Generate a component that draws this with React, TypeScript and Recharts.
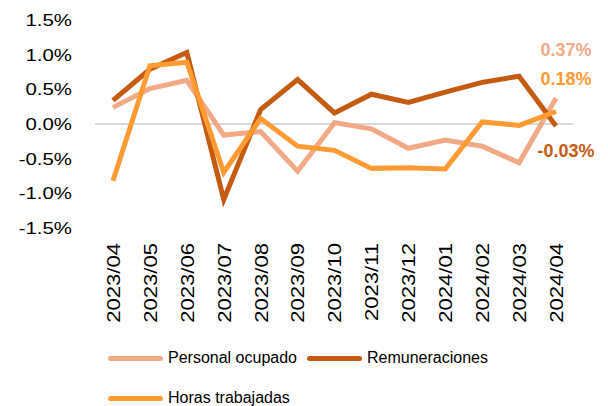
import { LineChart, Line, XAxis, YAxis, CartesianGrid } from "recharts";

const months = [
  "2023/04", "2023/05", "2023/06", "2023/07", "2023/08", "2023/09", "2023/10",
  "2023/11", "2023/12", "2024/01", "2024/02", "2024/03", "2024/04",
];
const personalOcupado = [0.24, 0.51, 0.63, -0.16, -0.11, -0.68, 0.02, -0.07, -0.35, -0.23, -0.32, -0.56, 0.37];
const remuneraciones = [0.34, 0.79, 1.03, -1.09, 0.21, 0.64, 0.16, 0.43, 0.31, 0.46, 0.6, 0.69, -0.03];
const horasTrabajadas = [-0.82, 0.84, 0.89, -0.7, 0.08, -0.32, -0.38, -0.64, -0.63, -0.65, 0.03, -0.02, 0.18];
const yTicks = [-1.5, -1, -0.5, 0, 0.5, 1, 1.5];

const series = [
  { key: "personal", name: "Personal ocupado", color: "#F2AA86", dy: -48 },
  { key: "remun", name: "Remuneraciones", color: "#C55A11", dy: 25 },
  { key: "horas", name: "Horas trabajadas", color: "#FF9A35", dy: -33 },
];

const data = months.map((m, i) => ({
  month: m,
  personal: personalOcupado[i],
  remun: remuneraciones[i],
  horas: horasTrabajadas[i],
}));

const font = "'Liberation Sans', Arial, sans-serif";

function XTick(props: any) {
  const { x, y, payload } = props;
  return (
    <g transform={`translate(${x},${y + 7}) rotate(-90) scale(1.16,1)`}>
      <text textAnchor="end" dy="0.36em" fontSize={19} fontFamily={font} fill="#000">
        {payload.value}
      </text>
    </g>
  );
}

function YTick(props: any) {
  const { y, payload } = props;
  return (
    <g transform={`translate(72,${y}) scale(1.2,1)`}>
      <text textAnchor="end" dy="0.36em" fontSize={17} fontFamily={font} fill="#000">
        {payload.value.toFixed(1) + "%"}
      </text>
    </g>
  );
}

function endLabel(color: string, dy: number) {
  return (props: any) => {
    const { x, y, index, value } = props;
    if (index !== months.length - 1) return null;
    return (
      <text
        x={x + 10}
        y={y + dy}
        textAnchor="middle"
        dominantBaseline="central"
        fontSize={18}
        fontWeight="bold"
        fontFamily={font}
        fill={color}
      >
        {value.toFixed(2) + "%"}
      </text>
    );
  };
}

function LegendItem({ s, left, top }: { s: (typeof series)[number]; left: number; top: number }) {
  return (
    <div style={{ position: "absolute", left, top, display: "flex", alignItems: "center" }}>
      <div style={{ width: 55, height: 5, borderRadius: 3, background: s.color, marginRight: 5 }} />
      <span style={{ fontSize: 16, fontFamily: font, color: "#000", lineHeight: "20px" }}>{s.name}</span>
    </div>
  );
}

export default function App() {
  return (
    <div style={{ position: "absolute", left: 0, top: 0, width: 608, height: 406, background: "#fff" }}>
      <LineChart width={608} height={406} data={data} margin={{ top: 20, right: 35, bottom: 0, left: 0 }}>
        <CartesianGrid vertical={false} horizontalValues={[0]} stroke="#D9D9D9" strokeWidth={2} />
        <XAxis
          dataKey="month"
          axisLine={false}
          tickLine={false}
          interval={0}
          height={178}
          padding={{ left: 18, right: 17 }}
          tick={<XTick />}
        />
        <YAxis
          domain={[-1.5, 1.5]}
          ticks={yTicks}
          axisLine={false}
          tickLine={false}
          width={95}
          tick={<YTick />}
        />
        {series.map((s) => (
          <Line
            key={s.key}
            dataKey={s.key}
            name={s.name}
            stroke={s.color}
            strokeWidth={5}
            dot={false}
            activeDot={false}
            type="linear"
            isAnimationActive={false}
            label={endLabel(s.color, s.dy)}
          />
        ))}
      </LineChart>
      <LegendItem s={series[0]} left={108} top={348} />
      <LegendItem s={series[1]} left={307} top={348} />
      <LegendItem s={series[2]} left={108} top={388} />
    </div>
  );
}
